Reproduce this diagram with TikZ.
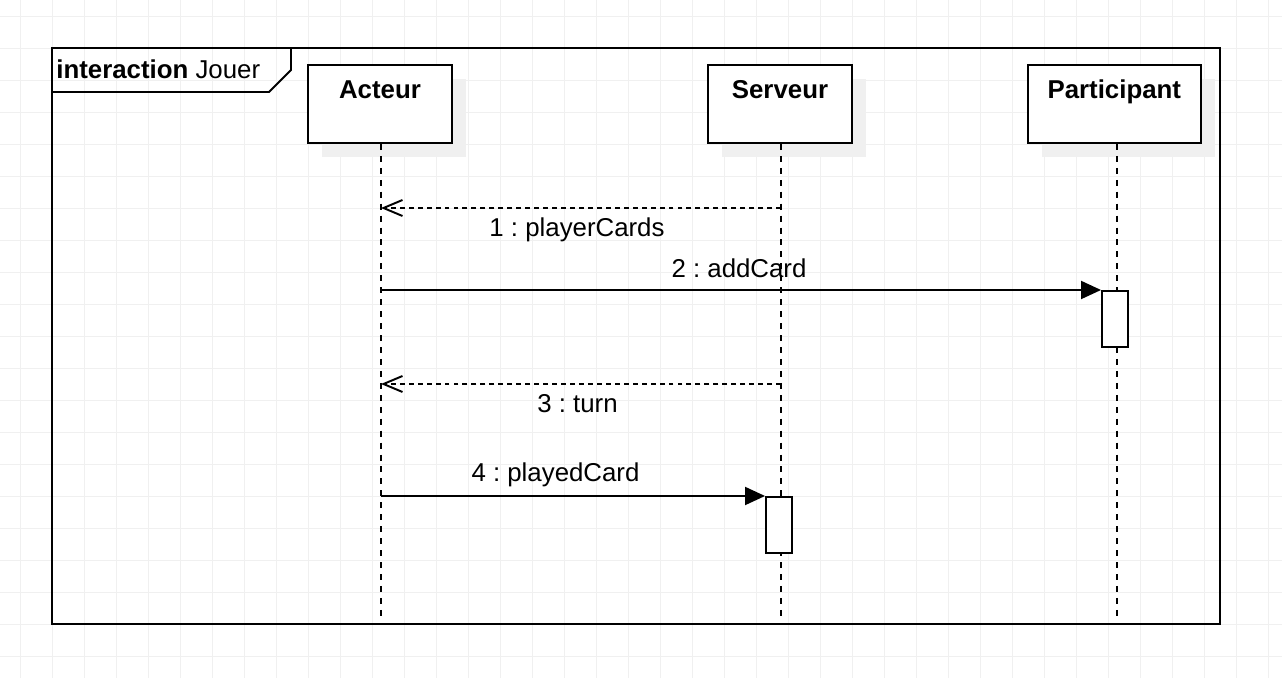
\documentclass[tikz,border=0pt]{standalone}
\usepackage{fontspec}
\setmainfont{Liberation Sans}
\usepackage{tikz}
\usetikzlibrary{arrows.meta, positioning, shadows}
\frenchspacing

\begin{document}
\begin{tikzpicture}[
  x=0.02cm, y=-0.02cm,
  font=\fontsize{14.7}{17}\selectfont,
  gridline/.style={draw=black!6, line width=0.5pt},
  head/.style={rectangle, draw, fill=white, line width=1.1pt, inner sep=0pt, anchor=north, minimum width=2.88cm, text height=0.674cm, text depth=0.886cm, font=\fontsize{14.7}{17}\selectfont\bfseries, drop shadow={shadow xshift=0.28cm, shadow yshift=-0.28cm, fill=black!6, opacity=1}},
  activ/.style={rectangle, draw, fill=white, line width=1.1pt, inner sep=0pt, anchor=north, minimum width=0.52cm, minimum height=1.12cm},
  lifeline/.style={line width=1.1pt, dash pattern=on 3.4pt off 3.4pt},
  call/.style={line width=1.1pt, -{Triangle[length=0.4cm, width=0.36cm]}},
  reply/.style={line width=1.1pt, dash pattern=on 2.8pt off 2.3pt, -{Straight Barb[length=0.38cm, width=0.32cm, line width=1.1pt]}},
  msg/.style={inner sep=0pt, anchor=base},
]
  \useasboundingbox (0,0) rectangle (1282,678);
  \fill[white] (0,0) rectangle (1282,678);
  \foreach \gx in {20,52,...,1268}
    \draw[gridline] (\gx,0) -- (\gx,678);
  \foreach \gy in {16,48,...,656}
    \draw[gridline] (0,\gy) -- (1282,\gy);

  \draw[line width=1.1pt] (52,48) rectangle (1220,624);
  \node[inner sep=0pt, anchor=base west] (frametag) at (56,78.5) {\textbf{interaction} Jouer};
  \draw[line width=1.1pt] (52,92) -- (269,92) -- (291,70) -- (291,48);

  \node[head] (acteur) at (380,64) {Acteur};
  \node[head] (serveur) at (780,64) {Serveur};
  \node[head, minimum width=3.46cm] (participant) at (1114.3,64) {Participant};

  \coordinate (abot) at (381,618);
  \coordinate (sbot) at (781,618);
  \coordinate (pbot) at (1117,618);
  \draw[lifeline] (acteur.south -| abot) -- (abot);
  \draw[lifeline] (serveur.south -| sbot) -- (sbot);
  \draw[lifeline] (participant.south -| pbot) -- (pbot);

  \node[activ] (pact) at (1115,290) {};
  \node[activ] (sact) at (779,496) {};

  \coordinate (s1) at (781,208);
  \coordinate (a1) at (381,208);
  \coordinate (a2) at (381,290);
  \coordinate (s3) at (781,384);
  \coordinate (a3) at (381,384);
  \coordinate (a4) at (381,496);

  \draw[reply] (s1) -- (a1);
  \draw[call] (a2) -- (pact.north west);
  \draw[reply] (s3) -- (a3);
  \draw[call] (a4) -- (sact.north west);

  \node[msg] (m1) at (577,237) {1 : playerCards};
  \node[msg] (m2) at (739,278) {2 : addCard};
  \node[msg] (m3) at (577.5,413) {3 : turn};
  \node[msg] (m4) at (555.5,482) {4 : playedCard};
\end{tikzpicture}
\end{document}
